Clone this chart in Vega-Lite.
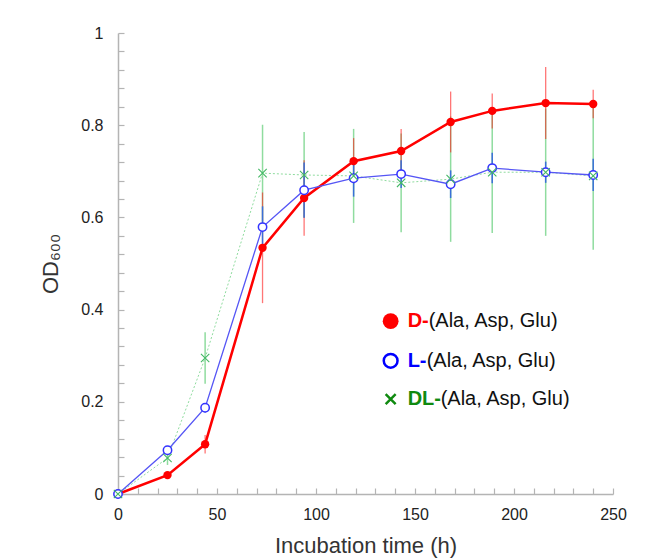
{
  "$schema": "https://vega.github.io/schema/vega-lite/v6.json",
  "width": 495,
  "height": 461,
  "autosize": {"type": "none"},
  "padding": {"left": 118, "top": 33, "right": 46, "bottom": 64},
  "background": "white",
  "config": {
    "view": {"stroke": null},
    "font": "Liberation Sans",
    "axis": {
      "domainColor": "#b4b4b4",
      "domainWidth": 1.5,
      "tickColor": "#b4b4b4",
      "tickWidth": 1.2,
      "tickSize": -6,
      "grid": false,
      "labelOverlap": false,
      "labelFlush": false,
      "labelBound": false,
      "labelFont": "Liberation Sans",
      "labelFontSize": 16,
      "labelColor": "#222222",
      "titleFont": "Liberation Sans",
      "titleFontWeight": "normal",
      "titleFontSize": 22,
      "titleColor": "#333333"
    }
  },
  "datasets": {
    "obs": [
      {"series": "D", "t": 0, "od": 0, "err": 0},
      {"series": "D", "t": 25, "od": 0.041, "err": 0.005},
      {"series": "D", "t": 44, "od": 0.108, "err": 0.02},
      {"series": "D", "t": 73, "od": 0.534, "err": 0.12},
      {"series": "D", "t": 94, "od": 0.642, "err": 0.082},
      {"series": "D", "t": 119, "od": 0.722, "err": 0.05},
      {"series": "D", "t": 143, "od": 0.744, "err": 0.048},
      {"series": "D", "t": 168, "od": 0.807, "err": 0.066},
      {"series": "D", "t": 189, "od": 0.831, "err": 0.038},
      {"series": "D", "t": 216, "od": 0.848, "err": 0.078},
      {"series": "D", "t": 240, "od": 0.846, "err": 0.031},
      {"series": "L", "t": 0, "od": 0, "err": 0},
      {"series": "L", "t": 25, "od": 0.095, "err": 0.005},
      {"series": "L", "t": 44, "od": 0.187, "err": 0.01},
      {"series": "L", "t": 73, "od": 0.579, "err": 0.045},
      {"series": "L", "t": 94, "od": 0.659, "err": 0.06},
      {"series": "L", "t": 119, "od": 0.685, "err": 0.04},
      {"series": "L", "t": 143, "od": 0.694, "err": 0.03},
      {"series": "L", "t": 168, "od": 0.672, "err": 0.03},
      {"series": "L", "t": 189, "od": 0.707, "err": 0.033},
      {"series": "L", "t": 216, "od": 0.698, "err": 0.023},
      {"series": "L", "t": 240, "od": 0.692, "err": 0.035},
      {"series": "DL", "t": 0, "od": 0, "err": 0},
      {"series": "DL", "t": 25, "od": 0.078, "err": 0.015},
      {"series": "DL", "t": 44, "od": 0.295, "err": 0.056},
      {"series": "DL", "t": 73, "od": 0.696, "err": 0.105},
      {"series": "DL", "t": 94, "od": 0.692, "err": 0.093},
      {"series": "DL", "t": 119, "od": 0.69, "err": 0.102},
      {"series": "DL", "t": 143, "od": 0.675, "err": 0.107},
      {"series": "DL", "t": 168, "od": 0.683, "err": 0.136},
      {"series": "DL", "t": 189, "od": 0.698, "err": 0.132},
      {"series": "DL", "t": 216, "od": 0.698, "err": 0.138},
      {"series": "DL", "t": 240, "od": 0.69, "err": 0.16}
    ],
    "legend": [
      {"series": "D", "prefix": "D-", "rest": "(Ala, Asp, Glu)", "lx": 137.7, "ly": 0.375},
      {"series": "L", "prefix": "L-", "rest": "(Ala, Asp, Glu)", "lx": 137.7, "ly": 0.289},
      {"series": "DL", "prefix": "DL-", "rest": "(Ala, Asp, Glu)", "lx": 137.7, "ly": 0.206}
    ]
  },
  "layer": [
    {
      "data": {"name": "obs"},
      "transform": [{"filter": "datum.series == 'DL'"}],
      "mark": {"type": "line", "color": "#8fdc9f", "strokeWidth": 1, "strokeDash": [2, 2]},
      "encoding": {
        "x": {
          "field": "t", "type": "quantitative", "title": "Incubation time (h)",
          "scale": {"domain": [0, 250], "nice": false, "zero": false},
          "axis": {
            "values": [0, 10, 20, 30, 40, 50, 60, 70, 80, 90, 100, 110, 120, 130, 140, 150, 160, 170, 180, 190, 200, 210, 220, 230, 240, 250],
            "tickCount": 100,
            "labelExpr": "datum.value % 50 == 0 ? format(datum.value, 'd') : ''",
            "labelOverlap": false,
            "labelPadding": 18,
            "titlePadding": 13
          }
        },
        "y": {
          "field": "od", "type": "quantitative", "title": "OD₆₀₀",
          "scale": {"domain": [0, 1], "nice": false},
          "axis": {
            "values": [0, 0.04, 0.08, 0.12, 0.16, 0.2, 0.24, 0.28, 0.32, 0.36, 0.4, 0.44, 0.48, 0.52, 0.56, 0.6, 0.64, 0.68, 0.72, 0.76, 0.8, 0.84, 0.88, 0.92, 0.96, 1],
            "tickCount": 100,
            "labelExpr": "abs(datum.value * 5 - round(datum.value * 5)) < 0.001 ? format(datum.value, '.1~f') : ''",
            "labelOverlap": false,
            "labelPadding": 21,
            "titlePadding": 18
          }
        }
      }
    },
    {
      "data": {"name": "obs"},
      "transform": [
        {"filter": "datum.series == 'DL' && datum.err > 0"},
        {"calculate": "datum.od - datum.err", "as": "lo"},
        {"calculate": "datum.od + datum.err", "as": "hi"}
      ],
      "mark": {"type": "rule", "color": "#8fdc9f", "strokeWidth": 1.5},
      "encoding": {
        "x": {"field": "t", "type": "quantitative", "title": "Incubation time (h)"},
        "y": {"field": "lo", "type": "quantitative", "title": "OD₆₀₀"},
        "y2": {"field": "hi"}
      }
    },
    {
      "data": {"name": "obs"},
      "transform": [
        {"filter": "datum.series == 'D' && datum.err > 0"},
        {"calculate": "datum.od - datum.err", "as": "lo"},
        {"calculate": "datum.od + datum.err", "as": "hi"}
      ],
      "mark": {"type": "rule", "color": "#ff1a1a", "strokeWidth": 1.3, "opacity": 0.6},
      "encoding": {
        "x": {"field": "t", "type": "quantitative", "title": "Incubation time (h)"},
        "y": {"field": "lo", "type": "quantitative", "title": "OD₆₀₀"},
        "y2": {"field": "hi"}
      }
    },
    {
      "data": {"name": "obs"},
      "transform": [
        {"filter": "datum.series == 'L' && datum.err > 0"},
        {"calculate": "datum.od - datum.err", "as": "lo"},
        {"calculate": "datum.od + datum.err", "as": "hi"}
      ],
      "mark": {"type": "rule", "color": "#3a6fd8", "strokeWidth": 1.5},
      "encoding": {
        "x": {"field": "t", "type": "quantitative", "title": "Incubation time (h)"},
        "y": {"field": "lo", "type": "quantitative", "title": "OD₆₀₀"},
        "y2": {"field": "hi"}
      }
    },
    {
      "data": {"name": "obs"},
      "transform": [{"filter": "datum.series == 'D'"}],
      "mark": {"type": "line", "color": "#ff0000", "strokeWidth": 2.5},
      "encoding": {
        "x": {"field": "t", "type": "quantitative", "title": "Incubation time (h)"},
        "y": {"field": "od", "type": "quantitative", "title": "OD₆₀₀"}
      }
    },
    {
      "data": {"name": "obs"},
      "transform": [{"filter": "datum.series == 'L'"}],
      "mark": {"type": "line", "color": "#5555f5", "strokeWidth": 1.3},
      "encoding": {
        "x": {"field": "t", "type": "quantitative", "title": "Incubation time (h)"},
        "y": {"field": "od", "type": "quantitative", "title": "OD₆₀₀"}
      }
    },
    {
      "data": {"name": "obs"},
      "transform": [{"filter": "datum.series == 'D'"}],
      "mark": {"type": "point", "shape": "circle", "filled": true, "color": "#ff0000", "size": 70, "opacity": 1},
      "encoding": {
        "x": {"field": "t", "type": "quantitative", "title": "Incubation time (h)"},
        "y": {"field": "od", "type": "quantitative", "title": "OD₆₀₀"}
      }
    },
    {
      "data": {"name": "obs"},
      "transform": [{"filter": "datum.series == 'L'"}],
      "mark": {"type": "point", "shape": "circle", "filled": false, "fill": "white", "fillOpacity": 1, "stroke": "#3333ff", "strokeWidth": 1.5, "size": 70, "opacity": 1},
      "encoding": {
        "x": {"field": "t", "type": "quantitative", "title": "Incubation time (h)"},
        "y": {"field": "od", "type": "quantitative", "title": "OD₆₀₀"}
      }
    },
    {
      "data": {"name": "obs"},
      "transform": [{"filter": "datum.series == 'DL'"}],
      "mark": {"type": "point", "shape": "M-1,-1L1,1M1,-1L-1,1", "filled": false, "stroke": "#44b865", "strokeWidth": 1.1, "size": 70, "opacity": 1},
      "encoding": {
        "x": {"field": "t", "type": "quantitative", "title": "Incubation time (h)"},
        "y": {"field": "od", "type": "quantitative", "title": "OD₆₀₀"}
      }
    },
    {
      "data": {"name": "legend"},
      "transform": [{"filter": "datum.series == 'D'"}],
      "mark": {"type": "point", "shape": "circle", "filled": true, "color": "#ff0000", "size": 250, "opacity": 1},
      "encoding": {
        "x": {"field": "lx", "type": "quantitative", "title": "Incubation time (h)"},
        "y": {"field": "ly", "type": "quantitative", "title": "OD₆₀₀"}
      }
    },
    {
      "data": {"name": "legend"},
      "transform": [{"filter": "datum.series == 'L'"}],
      "mark": {"type": "point", "shape": "circle", "filled": false, "fill": "white", "fillOpacity": 1, "stroke": "#0000ff", "strokeWidth": 2.5, "size": 190, "opacity": 1},
      "encoding": {
        "x": {"field": "lx", "type": "quantitative", "title": "Incubation time (h)"},
        "y": {"field": "ly", "type": "quantitative", "title": "OD₆₀₀"}
      }
    },
    {
      "data": {"name": "legend"},
      "transform": [{"filter": "datum.series == 'DL'"}],
      "mark": {"type": "point", "shape": "M-1,-1L1,1M1,-1L-1,1", "filled": false, "stroke": "#108a10", "strokeWidth": 2.5, "size": 100, "opacity": 1},
      "encoding": {
        "x": {"field": "lx", "type": "quantitative", "title": "Incubation time (h)"},
        "y": {"field": "ly", "type": "quantitative", "title": "OD₆₀₀"}
      }
    },
    {
      "data": {"name": "legend"},
      "mark": {"type": "text", "align": "left", "baseline": "middle", "dx": 17, "fontSize": 20, "fontWeight": "bold", "font": "Liberation Sans"},
      "encoding": {
        "x": {"field": "lx", "type": "quantitative", "title": "Incubation time (h)"},
        "y": {"field": "ly", "type": "quantitative", "title": "OD₆₀₀"},
        "text": {"field": "prefix"},
        "color": {"field": "series", "type": "nominal", "scale": {"domain": ["D", "L", "DL"], "range": ["#ff0000", "#0000ff", "#108a10"]}, "legend": null}
      }
    },
    {
      "data": {"name": "legend"},
      "transform": [{"filter": "datum.series == 'D'"}],
      "mark": {"type": "text", "align": "left", "baseline": "middle", "dx": 38, "fontSize": 20, "font": "Liberation Sans", "color": "#111111"},
      "encoding": {
        "x": {"field": "lx", "type": "quantitative", "title": "Incubation time (h)"},
        "y": {"field": "ly", "type": "quantitative", "title": "OD₆₀₀"},
        "text": {"field": "rest"}
      }
    },
    {
      "data": {"name": "legend"},
      "transform": [{"filter": "datum.series == 'L'"}],
      "mark": {"type": "text", "align": "left", "baseline": "middle", "dx": 36, "fontSize": 20, "font": "Liberation Sans", "color": "#111111"},
      "encoding": {
        "x": {"field": "lx", "type": "quantitative", "title": "Incubation time (h)"},
        "y": {"field": "ly", "type": "quantitative", "title": "OD₆₀₀"},
        "text": {"field": "rest"}
      }
    },
    {
      "data": {"name": "legend"},
      "transform": [{"filter": "datum.series == 'DL'"}],
      "mark": {"type": "text", "align": "left", "baseline": "middle", "dx": 50, "fontSize": 20, "font": "Liberation Sans", "color": "#111111"},
      "encoding": {
        "x": {"field": "lx", "type": "quantitative", "title": "Incubation time (h)"},
        "y": {"field": "ly", "type": "quantitative", "title": "OD₆₀₀"},
        "text": {"field": "rest"}
      }
    }
  ]
}
